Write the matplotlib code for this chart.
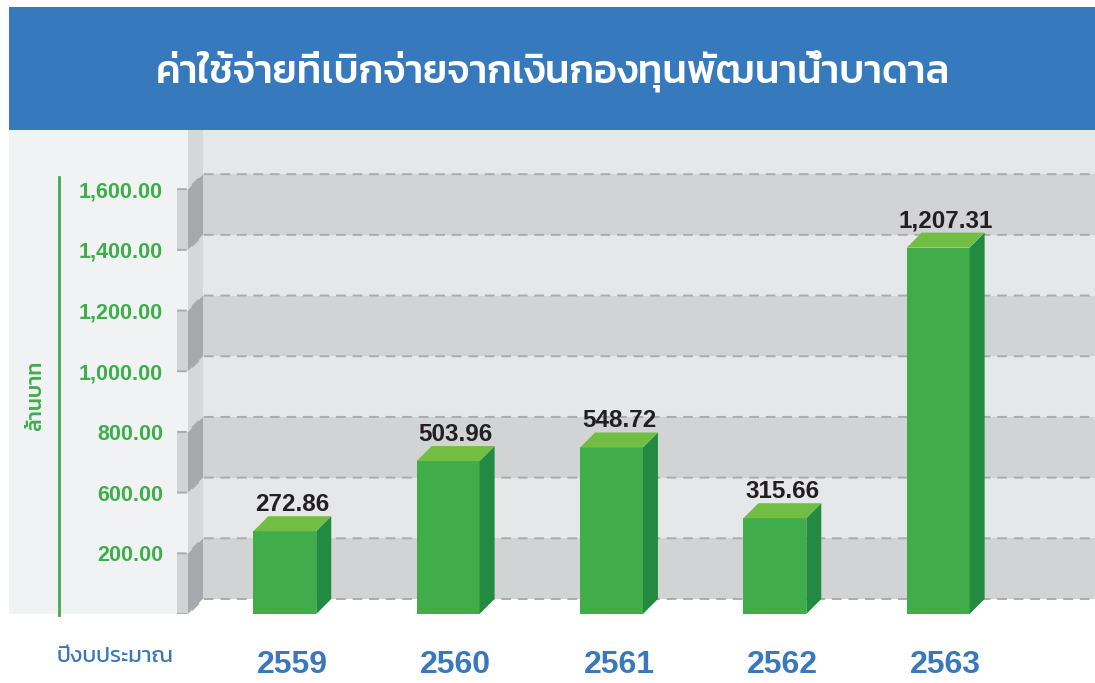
import numpy as np
import matplotlib
matplotlib.use("Agg")
import matplotlib.pyplot as plt
from matplotlib.patches import Rectangle, Polygon
from matplotlib.lines import Line2D

# data
years = ['2559', '2560', '2561', '2562', '2563']
spend = [272.86, 503.96, 548.72, 315.66, 1207.31]   # ล้านบาท
grid_step = 200
ytick_labels = ['200.00', '600.00', '800.00', '1,000.00',
                '1,200.00', '1,400.00', '1,600.00']
title = 'ค่าใช้จ่ายที่เบิกจ่ายจากเงินกองทุนพัฒนาน้ำบาดาล'
ylabel = 'ล้านบาท'
xlabel = 'ปีงบประมาณ'

# colours
BLUE = '#3679BC'
PAGE = '#F1F2F4'
BACK_LIGHT = '#E6E7E9'
BACK_DARK = '#D2D3D5'
WALL_LIGHT = '#D6D7D9'
WALL_DARK = '#A7A8AB'
GRID = '#AAABAE'
GREEN = '#3DAE4A'
BAR_FRONT = '#41AD4A'
BAR_SIDE = '#228B41'
BAR_TOP = '#72BE44'
YEAR_BLUE = '#3A78BD'

NUM_FONT = ['Liberation Sans', 'DejaVu Sans']
NARROW_FONT = ['Liberation Sans Narrow', 'Liberation Sans', 'DejaVu Sans']
THAI_FONT = ['Kanit', 'DejaVu Sans']

W, H = 1095, 683
fig = plt.figure(figsize=(W / 100, H / 100), dpi=100)


def fx(px):
    return px / W


def fy(py):
    return 1 - py / H


# title band and page background (behind the axes)
fig.patches.append(Rectangle((fx(9), fy(130)), 1, fy(7) - fy(130),
                             transform=fig.transFigure, fc=BLUE, ec='none', zorder=-2))
fig.patches.append(Rectangle((fx(9), fy(614)), 1, fy(130) - fy(614),
                             transform=fig.transFigure, fc=PAGE, ec='none', zorder=-2))

ax = fig.add_axes([fx(177), fy(614), 1 - fx(177), fy(130) - fy(614)])
ax.set_facecolor('none')
ax.set_xlim(-0.66, 4.96)
ax.set_ylim(0, 1595)
for s in ax.spines.values():
    s.set_visible(False)

inv = ax.transData.inverted()


def px2data(dpx, dpy):
    a = inv.transform((0, 0))
    b = inv.transform((dpx, dpy))
    return b[0] - a[0], b[1] - a[1]


dx, dy = px2data(15, 15)          # 3d depth
x0, x1 = ax.get_xlim()
ytop = ax.get_ylim()[1]
xw = x0 + px2data(11, 0)[0]       # front edge of the left wall

levels = [grid_step * k for k in range(len(ytick_labels) + 1)]

# back panel, bands, wall
ax.add_patch(Rectangle((xw + dx, dy), x1 - xw, ytop, fc=BACK_LIGHT, ec='none', zorder=0.5))
for k in range(len(levels) - 1):
    lo, hi = levels[k], levels[k + 1]
    dark = (k % 2 == 0)
    if dark:
        ax.add_patch(Rectangle((xw + dx, lo + dy), x1 - xw, hi - lo,
                               fc=BACK_DARK, ec='none', zorder=0.6))
        ax.add_patch(Rectangle((x0, lo), xw - x0, hi - lo,
                               fc=BACK_DARK, ec='none', zorder=0.6))
    ax.add_patch(Polygon([(xw, lo), (xw + dx, lo + dy), (xw + dx, hi + dy), (xw, hi)],
                         fc=WALL_DARK if dark else WALL_LIGHT, ec='none', zorder=0.8))
ax.add_patch(Polygon([(xw, levels[-1]), (xw + dx, levels[-1] + dy),
                      (xw + dx, ytop + dy), (xw, ytop + dy)],
                     fc=WALL_LIGHT, ec='none', zorder=0.8))
# white floor
ax.add_patch(Polygon([(xw, 0), (xw + dx, dy), (x1, dy), (x1, 0)],
                     fc='white', ec='none', zorder=0.9))

for L in levels:
    ax.plot([x0, xw, xw + dx, x1], [L, L, L + dy, L + dy], color=GRID, lw=1.4,
            ls=(0, (5, 3.5)), dash_capstyle='butt', zorder=1)

# bars
xs = np.arange(len(years))
w = 0.385
ax.bar(xs, spend, width=w, color=BAR_FRONT, linewidth=0, zorder=3)
for x, v in zip(xs, spend):
    l, r = x - w / 2, x + w / 2
    ax.add_patch(Polygon([(r, 0), (r + dx, dy), (r + dx, v + dy), (r, v)],
                         fc=BAR_SIDE, ec='none', zorder=3))
    ax.add_patch(Polygon([(l, v), (r, v), (r + dx, v + dy), (l + dx, v + dy)],
                         fc=BAR_TOP, ec='none', zorder=3))
    ax.annotate(f'{v:,.2f}', xy=(x + dx / 2, v + dy), xytext=(0, 0),
                textcoords='offset points', ha='center', va='bottom',
                fontsize=17.5, fontweight='bold', color='#231F20',
                family=NUM_FONT, zorder=5)

# ticks
ax.set_yticks(levels[1:], ytick_labels)
ax.set_xticks(xs + dx / 2, years)
ax.tick_params(length=0)
ax.tick_params(axis='y', pad=10, labelsize=15.5, labelcolor=GREEN)
ax.tick_params(axis='x', pad=26, labelsize=23, labelcolor=YEAR_BLUE)
for lab in ax.get_yticklabels():
    lab.set_fontweight('bold')
    lab.set_family(NUM_FONT)
for lab in ax.get_xticklabels():
    lab.set_fontweight('bold')
    lab.set_family(NARROW_FONT)

# side texts
fig.add_artist(Line2D([fx(59), fx(59)], [fy(177), fy(615)], color=GREEN, lw=2))
fig.text(fx(36), fy(396), ylabel, rotation=90, ha='center', va='center',
         color=GREEN, fontsize=15, fontweight='medium', family=THAI_FONT)
fig.text(fx(57), fy(656), xlabel, ha='left', va='center',
         color=YEAR_BLUE, fontsize=16, fontweight='normal', family=THAI_FONT)

fig.text(fx(553), fy(72), title, ha='center', va='center', color='white',
         fontsize=28.5, fontweight='medium', family=THAI_FONT)

fig.savefig('out.png', dpi=100)
